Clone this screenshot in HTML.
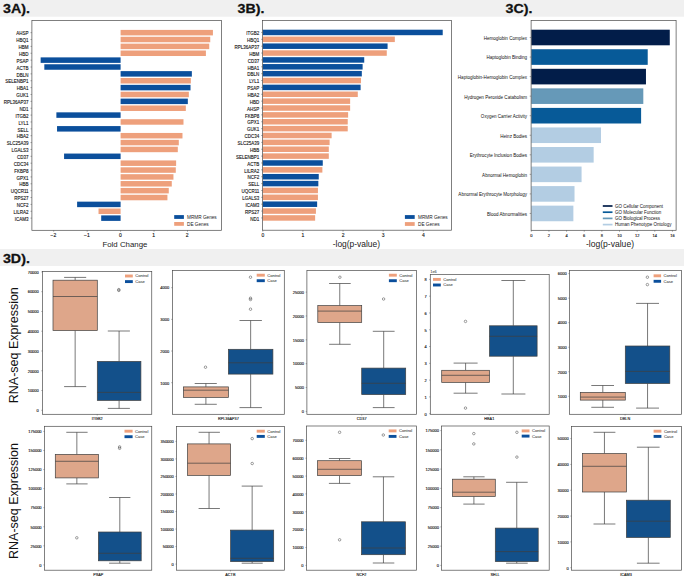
<!DOCTYPE html>
<html><head><meta charset="utf-8"><title>Figure 3</title>
<style>html,body{margin:0;padding:0;background:#fff;width:685px;height:579px;overflow:hidden}svg{display:block}</style>
</head><body>
<svg width="685" height="579" viewBox="0 0 685 579" font-family='"Liberation Sans", sans-serif'><rect x="0.00" y="0.00" width="684.00" height="16.70" fill="#f0f0f0" />
<rect x="0.00" y="249.00" width="684.00" height="17.00" fill="#f0f0f0" />
<text transform="translate(3.00,12.50) scale(1.19,1)" font-size="12.0" text-anchor="start" fill="#111" font-weight="bold" stroke="#111" stroke-width="0.25">3A).</text>
<text transform="translate(237.60,12.50) scale(1.19,1)" font-size="12.0" text-anchor="start" fill="#111" font-weight="bold" stroke="#111" stroke-width="0.25">3B).</text>
<text transform="translate(505.60,12.50) scale(1.19,1)" font-size="12.0" text-anchor="start" fill="#111" font-weight="bold" stroke="#111" stroke-width="0.25">3C).</text>
<text transform="translate(2.90,263.40) scale(1.19,1)" font-size="12.0" text-anchor="start" fill="#111" font-weight="bold" stroke="#111" stroke-width="0.25">3D).</text>
<rect x="120.60" y="29.90" width="92.32" height="5.50" fill="#eea07c" />
<line x1="30.50" y1="32.65" x2="31.90" y2="32.65" stroke="#4a4a4a" stroke-width="0.5" />
<text transform="translate(28.60,35.35) scale(0.9,1)" font-size="5.0" text-anchor="end" fill="#111" font-weight="normal" stroke="#111" stroke-width="0.12">AHSP</text>
<rect x="120.60" y="36.77" width="89.65" height="5.50" fill="#eea07c" />
<line x1="30.50" y1="39.52" x2="31.90" y2="39.52" stroke="#4a4a4a" stroke-width="0.5" />
<text transform="translate(28.60,42.22) scale(0.9,1)" font-size="5.0" text-anchor="end" fill="#111" font-weight="normal" stroke="#111" stroke-width="0.12">HBQ1</text>
<rect x="120.60" y="43.64" width="88.64" height="5.50" fill="#eea07c" />
<line x1="30.50" y1="46.39" x2="31.90" y2="46.39" stroke="#4a4a4a" stroke-width="0.5" />
<text transform="translate(28.60,49.09) scale(0.9,1)" font-size="5.0" text-anchor="end" fill="#111" font-weight="normal" stroke="#111" stroke-width="0.12">HBM</text>
<rect x="120.60" y="50.51" width="85.30" height="5.50" fill="#eea07c" />
<line x1="30.50" y1="53.26" x2="31.90" y2="53.26" stroke="#4a4a4a" stroke-width="0.5" />
<text transform="translate(28.60,55.96) scale(0.9,1)" font-size="5.0" text-anchor="end" fill="#111" font-weight="normal" stroke="#111" stroke-width="0.12">HBD</text>
<rect x="40.65" y="57.38" width="79.95" height="5.50" fill="#0b4f9c" />
<line x1="30.50" y1="60.13" x2="31.90" y2="60.13" stroke="#4a4a4a" stroke-width="0.5" />
<text transform="translate(28.60,62.83) scale(0.9,1)" font-size="5.0" text-anchor="end" fill="#111" font-weight="normal" stroke="#111" stroke-width="0.12">PSAP</text>
<rect x="44.33" y="64.25" width="76.27" height="5.50" fill="#0b4f9c" />
<line x1="30.50" y1="67.00" x2="31.90" y2="67.00" stroke="#4a4a4a" stroke-width="0.5" />
<text transform="translate(28.60,69.70) scale(0.9,1)" font-size="5.0" text-anchor="end" fill="#111" font-weight="normal" stroke="#111" stroke-width="0.12">ACTB</text>
<rect x="120.60" y="71.12" width="71.25" height="5.50" fill="#0b4f9c" />
<line x1="30.50" y1="73.87" x2="31.90" y2="73.87" stroke="#4a4a4a" stroke-width="0.5" />
<text transform="translate(28.60,76.57) scale(0.9,1)" font-size="5.0" text-anchor="end" fill="#111" font-weight="normal" stroke="#111" stroke-width="0.12">DBLN</text>
<rect x="120.60" y="77.99" width="70.25" height="5.50" fill="#eea07c" />
<line x1="30.50" y1="80.74" x2="31.90" y2="80.74" stroke="#4a4a4a" stroke-width="0.5" />
<text transform="translate(28.60,83.44) scale(0.9,1)" font-size="5.0" text-anchor="end" fill="#111" font-weight="normal" stroke="#111" stroke-width="0.12">SELENBP1</text>
<rect x="120.60" y="84.86" width="69.91" height="5.50" fill="#0b4f9c" />
<line x1="30.50" y1="87.61" x2="31.90" y2="87.61" stroke="#4a4a4a" stroke-width="0.5" />
<text transform="translate(28.60,90.31) scale(0.9,1)" font-size="5.0" text-anchor="end" fill="#111" font-weight="normal" stroke="#111" stroke-width="0.12">HBA1</text>
<rect x="120.60" y="91.73" width="68.24" height="5.50" fill="#eea07c" />
<line x1="30.50" y1="94.48" x2="31.90" y2="94.48" stroke="#4a4a4a" stroke-width="0.5" />
<text transform="translate(28.60,97.18) scale(0.9,1)" font-size="5.0" text-anchor="end" fill="#111" font-weight="normal" stroke="#111" stroke-width="0.12">GUK1</text>
<rect x="120.60" y="98.60" width="67.23" height="5.50" fill="#0b4f9c" />
<line x1="30.50" y1="101.35" x2="31.90" y2="101.35" stroke="#4a4a4a" stroke-width="0.5" />
<text transform="translate(28.60,104.05) scale(0.9,1)" font-size="5.0" text-anchor="end" fill="#111" font-weight="normal" stroke="#111" stroke-width="0.12">RPL36AP37</text>
<rect x="120.60" y="105.47" width="65.23" height="5.50" fill="#eea07c" />
<line x1="30.50" y1="108.22" x2="31.90" y2="108.22" stroke="#4a4a4a" stroke-width="0.5" />
<text transform="translate(28.60,110.92) scale(0.9,1)" font-size="5.0" text-anchor="end" fill="#111" font-weight="normal" stroke="#111" stroke-width="0.12">ND1</text>
<rect x="56.38" y="112.34" width="64.22" height="5.50" fill="#0b4f9c" />
<line x1="30.50" y1="115.09" x2="31.90" y2="115.09" stroke="#4a4a4a" stroke-width="0.5" />
<text transform="translate(28.60,117.79) scale(0.9,1)" font-size="5.0" text-anchor="end" fill="#111" font-weight="normal" stroke="#111" stroke-width="0.12">ITGB2</text>
<rect x="120.60" y="119.21" width="62.89" height="5.50" fill="#eea07c" />
<line x1="30.50" y1="121.96" x2="31.90" y2="121.96" stroke="#4a4a4a" stroke-width="0.5" />
<text transform="translate(28.60,124.66) scale(0.9,1)" font-size="5.0" text-anchor="end" fill="#111" font-weight="normal" stroke="#111" stroke-width="0.12">LYL1</text>
<rect x="57.04" y="126.08" width="63.55" height="5.50" fill="#0b4f9c" />
<line x1="30.50" y1="128.83" x2="31.90" y2="128.83" stroke="#4a4a4a" stroke-width="0.5" />
<text transform="translate(28.60,131.53) scale(0.9,1)" font-size="5.0" text-anchor="end" fill="#111" font-weight="normal" stroke="#111" stroke-width="0.12">SELL</text>
<rect x="120.60" y="132.95" width="61.88" height="5.50" fill="#eea07c" />
<line x1="30.50" y1="135.70" x2="31.90" y2="135.70" stroke="#4a4a4a" stroke-width="0.5" />
<text transform="translate(28.60,138.40) scale(0.9,1)" font-size="5.0" text-anchor="end" fill="#111" font-weight="normal" stroke="#111" stroke-width="0.12">HBA2</text>
<rect x="120.60" y="139.82" width="58.20" height="5.50" fill="#eea07c" />
<line x1="30.50" y1="142.57" x2="31.90" y2="142.57" stroke="#4a4a4a" stroke-width="0.5" />
<text transform="translate(28.60,145.27) scale(0.9,1)" font-size="5.0" text-anchor="end" fill="#111" font-weight="normal" stroke="#111" stroke-width="0.12">SLC25A39</text>
<rect x="120.60" y="146.69" width="57.20" height="5.50" fill="#eea07c" />
<line x1="30.50" y1="149.44" x2="31.90" y2="149.44" stroke="#4a4a4a" stroke-width="0.5" />
<text transform="translate(28.60,152.14) scale(0.9,1)" font-size="5.0" text-anchor="end" fill="#111" font-weight="normal" stroke="#111" stroke-width="0.12">LGALS3</text>
<rect x="64.07" y="153.56" width="56.53" height="5.50" fill="#0b4f9c" />
<line x1="30.50" y1="156.31" x2="31.90" y2="156.31" stroke="#4a4a4a" stroke-width="0.5" />
<text transform="translate(28.60,159.01) scale(0.9,1)" font-size="5.0" text-anchor="end" fill="#111" font-weight="normal" stroke="#111" stroke-width="0.12">CD37</text>
<rect x="120.60" y="160.43" width="55.53" height="5.50" fill="#eea07c" />
<line x1="30.50" y1="163.18" x2="31.90" y2="163.18" stroke="#4a4a4a" stroke-width="0.5" />
<text transform="translate(28.60,165.88) scale(0.9,1)" font-size="5.0" text-anchor="end" fill="#111" font-weight="normal" stroke="#111" stroke-width="0.12">CDC34</text>
<rect x="120.60" y="167.30" width="55.19" height="5.50" fill="#eea07c" />
<line x1="30.50" y1="170.05" x2="31.90" y2="170.05" stroke="#4a4a4a" stroke-width="0.5" />
<text transform="translate(28.60,172.75) scale(0.9,1)" font-size="5.0" text-anchor="end" fill="#111" font-weight="normal" stroke="#111" stroke-width="0.12">FKBP8</text>
<rect x="120.60" y="174.17" width="52.85" height="5.50" fill="#eea07c" />
<line x1="30.50" y1="176.92" x2="31.90" y2="176.92" stroke="#4a4a4a" stroke-width="0.5" />
<text transform="translate(28.60,179.62) scale(0.9,1)" font-size="5.0" text-anchor="end" fill="#111" font-weight="normal" stroke="#111" stroke-width="0.12">GPX1</text>
<rect x="120.60" y="181.04" width="51.18" height="5.50" fill="#eea07c" />
<line x1="30.50" y1="183.79" x2="31.90" y2="183.79" stroke="#4a4a4a" stroke-width="0.5" />
<text transform="translate(28.60,186.49) scale(0.9,1)" font-size="5.0" text-anchor="end" fill="#111" font-weight="normal" stroke="#111" stroke-width="0.12">HBB</text>
<rect x="120.60" y="187.91" width="48.17" height="5.50" fill="#eea07c" />
<line x1="30.50" y1="190.66" x2="31.90" y2="190.66" stroke="#4a4a4a" stroke-width="0.5" />
<text transform="translate(28.60,193.36) scale(0.9,1)" font-size="5.0" text-anchor="end" fill="#111" font-weight="normal" stroke="#111" stroke-width="0.12">UQCR11</text>
<rect x="120.60" y="194.78" width="46.83" height="5.50" fill="#eea07c" />
<line x1="30.50" y1="197.53" x2="31.90" y2="197.53" stroke="#4a4a4a" stroke-width="0.5" />
<text transform="translate(28.60,200.23) scale(0.9,1)" font-size="5.0" text-anchor="end" fill="#111" font-weight="normal" stroke="#111" stroke-width="0.12">RPS27</text>
<rect x="77.11" y="201.65" width="43.49" height="5.50" fill="#0b4f9c" />
<line x1="30.50" y1="204.40" x2="31.90" y2="204.40" stroke="#4a4a4a" stroke-width="0.5" />
<text transform="translate(28.60,207.10) scale(0.9,1)" font-size="5.0" text-anchor="end" fill="#111" font-weight="normal" stroke="#111" stroke-width="0.12">NCF2</text>
<rect x="98.52" y="208.52" width="22.08" height="5.50" fill="#eea07c" />
<line x1="30.50" y1="211.27" x2="31.90" y2="211.27" stroke="#4a4a4a" stroke-width="0.5" />
<text transform="translate(28.60,213.97) scale(0.9,1)" font-size="5.0" text-anchor="end" fill="#111" font-weight="normal" stroke="#111" stroke-width="0.12">LILRA2</text>
<rect x="101.20" y="215.39" width="19.40" height="5.50" fill="#0b4f9c" />
<line x1="30.50" y1="218.14" x2="31.90" y2="218.14" stroke="#4a4a4a" stroke-width="0.5" />
<text transform="translate(28.60,220.84) scale(0.9,1)" font-size="5.0" text-anchor="end" fill="#111" font-weight="normal" stroke="#111" stroke-width="0.12">ICAM3</text>
<rect x="31.90" y="20.40" width="189.50" height="209.90" fill="none" stroke="#4a4a4a" stroke-width="0.7"/>
<line x1="53.70" y1="230.30" x2="53.70" y2="231.70" stroke="#4a4a4a" stroke-width="0.5" />
<text x="53.40" y="237.10" font-size="5.0" text-anchor="middle" fill="#111" font-weight="normal" stroke="#111" stroke-width="0.12">−2</text>
<line x1="87.15" y1="230.30" x2="87.15" y2="231.70" stroke="#4a4a4a" stroke-width="0.5" />
<text x="86.85" y="237.10" font-size="5.0" text-anchor="middle" fill="#111" font-weight="normal" stroke="#111" stroke-width="0.12">−1</text>
<line x1="120.60" y1="230.30" x2="120.60" y2="231.70" stroke="#4a4a4a" stroke-width="0.5" />
<text x="120.30" y="237.10" font-size="5.0" text-anchor="middle" fill="#111" font-weight="normal" stroke="#111" stroke-width="0.12">0</text>
<line x1="154.05" y1="230.30" x2="154.05" y2="231.70" stroke="#4a4a4a" stroke-width="0.5" />
<text x="153.75" y="237.10" font-size="5.0" text-anchor="middle" fill="#111" font-weight="normal" stroke="#111" stroke-width="0.12">1</text>
<line x1="187.50" y1="230.30" x2="187.50" y2="231.70" stroke="#4a4a4a" stroke-width="0.5" />
<text x="187.20" y="237.10" font-size="5.0" text-anchor="middle" fill="#111" font-weight="normal" stroke="#111" stroke-width="0.12">2</text>
<text x="124.90" y="247.20" font-size="7.85" text-anchor="middle" fill="#222" font-weight="normal" >Fold Change</text>
<rect x="174.20" y="215.10" width="9.70" height="3.80" fill="#0b4f9c" />
<rect x="174.20" y="222.00" width="9.70" height="3.80" fill="#eea07c" />
<text x="187.00" y="218.70" font-size="4.7" text-anchor="start" fill="#222" font-weight="normal" >MRMR Genes</text>
<text x="187.00" y="225.60" font-size="4.7" text-anchor="start" fill="#222" font-weight="normal" >DE Genes</text>
<rect x="262.80" y="29.70" width="179.92" height="5.50" fill="#0b4f9c" />
<line x1="261.20" y1="32.45" x2="262.60" y2="32.45" stroke="#4a4a4a" stroke-width="0.5" />
<text transform="translate(259.30,35.15) scale(0.9,1)" font-size="5.0" text-anchor="end" fill="#111" font-weight="normal" stroke="#111" stroke-width="0.12">ITGB2</text>
<rect x="262.80" y="36.57" width="132.02" height="5.50" fill="#eea07c" />
<line x1="261.20" y1="39.32" x2="262.60" y2="39.32" stroke="#4a4a4a" stroke-width="0.5" />
<text transform="translate(259.30,42.02) scale(0.9,1)" font-size="5.0" text-anchor="end" fill="#111" font-weight="normal" stroke="#111" stroke-width="0.12">HBQ1</text>
<rect x="262.80" y="43.44" width="124.78" height="5.50" fill="#0b4f9c" />
<line x1="261.20" y1="46.19" x2="262.60" y2="46.19" stroke="#4a4a4a" stroke-width="0.5" />
<text transform="translate(259.30,48.89) scale(0.9,1)" font-size="5.0" text-anchor="end" fill="#111" font-weight="normal" stroke="#111" stroke-width="0.12">RPL36AP37</text>
<rect x="262.80" y="50.31" width="123.97" height="5.50" fill="#eea07c" />
<line x1="261.20" y1="53.06" x2="262.60" y2="53.06" stroke="#4a4a4a" stroke-width="0.5" />
<text transform="translate(259.30,55.76) scale(0.9,1)" font-size="5.0" text-anchor="end" fill="#111" font-weight="normal" stroke="#111" stroke-width="0.12">HBM</text>
<rect x="262.80" y="57.18" width="101.43" height="5.50" fill="#0b4f9c" />
<line x1="261.20" y1="59.93" x2="262.60" y2="59.93" stroke="#4a4a4a" stroke-width="0.5" />
<text transform="translate(259.30,62.63) scale(0.9,1)" font-size="5.0" text-anchor="end" fill="#111" font-weight="normal" stroke="#111" stroke-width="0.12">CD37</text>
<rect x="262.80" y="64.05" width="99.82" height="5.50" fill="#0b4f9c" />
<line x1="261.20" y1="66.80" x2="262.60" y2="66.80" stroke="#4a4a4a" stroke-width="0.5" />
<text transform="translate(259.30,69.50) scale(0.9,1)" font-size="5.0" text-anchor="end" fill="#111" font-weight="normal" stroke="#111" stroke-width="0.12">HBA1</text>
<rect x="262.80" y="70.92" width="99.02" height="5.50" fill="#0b4f9c" />
<line x1="261.20" y1="73.67" x2="262.60" y2="73.67" stroke="#4a4a4a" stroke-width="0.5" />
<text transform="translate(259.30,76.37) scale(0.9,1)" font-size="5.0" text-anchor="end" fill="#111" font-weight="normal" stroke="#111" stroke-width="0.12">DBLN</text>
<rect x="262.80" y="77.79" width="98.21" height="5.50" fill="#eea07c" />
<line x1="261.20" y1="80.54" x2="262.60" y2="80.54" stroke="#4a4a4a" stroke-width="0.5" />
<text transform="translate(259.30,83.24) scale(0.9,1)" font-size="5.0" text-anchor="end" fill="#111" font-weight="normal" stroke="#111" stroke-width="0.12">LYL1</text>
<rect x="262.80" y="84.66" width="97.81" height="5.50" fill="#0b4f9c" />
<line x1="261.20" y1="87.41" x2="262.60" y2="87.41" stroke="#4a4a4a" stroke-width="0.5" />
<text transform="translate(259.30,90.11) scale(0.9,1)" font-size="5.0" text-anchor="end" fill="#111" font-weight="normal" stroke="#111" stroke-width="0.12">PSAP</text>
<rect x="262.80" y="91.53" width="94.99" height="5.50" fill="#eea07c" />
<line x1="261.20" y1="94.28" x2="262.60" y2="94.28" stroke="#4a4a4a" stroke-width="0.5" />
<text transform="translate(259.30,96.98) scale(0.9,1)" font-size="5.0" text-anchor="end" fill="#111" font-weight="normal" stroke="#111" stroke-width="0.12">HBA2</text>
<rect x="262.80" y="98.40" width="87.34" height="5.50" fill="#eea07c" />
<line x1="261.20" y1="101.15" x2="262.60" y2="101.15" stroke="#4a4a4a" stroke-width="0.5" />
<text transform="translate(259.30,103.85) scale(0.9,1)" font-size="5.0" text-anchor="end" fill="#111" font-weight="normal" stroke="#111" stroke-width="0.12">HBD</text>
<rect x="262.80" y="105.27" width="87.34" height="5.50" fill="#eea07c" />
<line x1="261.20" y1="108.02" x2="262.60" y2="108.02" stroke="#4a4a4a" stroke-width="0.5" />
<text transform="translate(259.30,110.72) scale(0.9,1)" font-size="5.0" text-anchor="end" fill="#111" font-weight="normal" stroke="#111" stroke-width="0.12">AHSP</text>
<rect x="262.80" y="112.14" width="85.33" height="5.50" fill="#eea07c" />
<line x1="261.20" y1="114.89" x2="262.60" y2="114.89" stroke="#4a4a4a" stroke-width="0.5" />
<text transform="translate(259.30,117.59) scale(0.9,1)" font-size="5.0" text-anchor="end" fill="#111" font-weight="normal" stroke="#111" stroke-width="0.12">FKBP8</text>
<rect x="262.80" y="119.01" width="84.93" height="5.50" fill="#eea07c" />
<line x1="261.20" y1="121.76" x2="262.60" y2="121.76" stroke="#4a4a4a" stroke-width="0.5" />
<text transform="translate(259.30,124.46) scale(0.9,1)" font-size="5.0" text-anchor="end" fill="#111" font-weight="normal" stroke="#111" stroke-width="0.12">GPX1</text>
<rect x="262.80" y="125.88" width="84.93" height="5.50" fill="#eea07c" />
<line x1="261.20" y1="128.63" x2="262.60" y2="128.63" stroke="#4a4a4a" stroke-width="0.5" />
<text transform="translate(259.30,131.33) scale(0.9,1)" font-size="5.0" text-anchor="end" fill="#111" font-weight="normal" stroke="#111" stroke-width="0.12">GUK1</text>
<rect x="262.80" y="132.75" width="68.83" height="5.50" fill="#eea07c" />
<line x1="261.20" y1="135.50" x2="262.60" y2="135.50" stroke="#4a4a4a" stroke-width="0.5" />
<text transform="translate(259.30,138.20) scale(0.9,1)" font-size="5.0" text-anchor="end" fill="#111" font-weight="normal" stroke="#111" stroke-width="0.12">CDC34</text>
<rect x="262.80" y="139.62" width="66.81" height="5.50" fill="#eea07c" />
<line x1="261.20" y1="142.37" x2="262.60" y2="142.37" stroke="#4a4a4a" stroke-width="0.5" />
<text transform="translate(259.30,145.07) scale(0.9,1)" font-size="5.0" text-anchor="end" fill="#111" font-weight="normal" stroke="#111" stroke-width="0.12">SLC25A39</text>
<rect x="262.80" y="146.49" width="66.01" height="5.50" fill="#eea07c" />
<line x1="261.20" y1="149.24" x2="262.60" y2="149.24" stroke="#4a4a4a" stroke-width="0.5" />
<text transform="translate(259.30,151.94) scale(0.9,1)" font-size="5.0" text-anchor="end" fill="#111" font-weight="normal" stroke="#111" stroke-width="0.12">HBB</text>
<rect x="262.80" y="153.36" width="66.01" height="5.50" fill="#eea07c" />
<line x1="261.20" y1="156.11" x2="262.60" y2="156.11" stroke="#4a4a4a" stroke-width="0.5" />
<text transform="translate(259.30,158.81) scale(0.9,1)" font-size="5.0" text-anchor="end" fill="#111" font-weight="normal" stroke="#111" stroke-width="0.12">SELENBP1</text>
<rect x="262.80" y="160.23" width="59.97" height="5.50" fill="#0b4f9c" />
<line x1="261.20" y1="162.98" x2="262.60" y2="162.98" stroke="#4a4a4a" stroke-width="0.5" />
<text transform="translate(259.30,165.68) scale(0.9,1)" font-size="5.0" text-anchor="end" fill="#111" font-weight="normal" stroke="#111" stroke-width="0.12">ACTB</text>
<rect x="262.80" y="167.10" width="59.57" height="5.50" fill="#eea07c" />
<line x1="261.20" y1="169.85" x2="262.60" y2="169.85" stroke="#4a4a4a" stroke-width="0.5" />
<text transform="translate(259.30,172.55) scale(0.9,1)" font-size="5.0" text-anchor="end" fill="#111" font-weight="normal" stroke="#111" stroke-width="0.12">LILRA2</text>
<rect x="262.80" y="173.97" width="55.95" height="5.50" fill="#0b4f9c" />
<line x1="261.20" y1="176.72" x2="262.60" y2="176.72" stroke="#4a4a4a" stroke-width="0.5" />
<text transform="translate(259.30,179.42) scale(0.9,1)" font-size="5.0" text-anchor="end" fill="#111" font-weight="normal" stroke="#111" stroke-width="0.12">NCF2</text>
<rect x="262.80" y="180.84" width="55.54" height="5.50" fill="#0b4f9c" />
<line x1="261.20" y1="183.59" x2="262.60" y2="183.59" stroke="#4a4a4a" stroke-width="0.5" />
<text transform="translate(259.30,186.29) scale(0.9,1)" font-size="5.0" text-anchor="end" fill="#111" font-weight="normal" stroke="#111" stroke-width="0.12">SELL</text>
<rect x="262.80" y="187.71" width="55.14" height="5.50" fill="#eea07c" />
<line x1="261.20" y1="190.46" x2="262.60" y2="190.46" stroke="#4a4a4a" stroke-width="0.5" />
<text transform="translate(259.30,193.16) scale(0.9,1)" font-size="5.0" text-anchor="end" fill="#111" font-weight="normal" stroke="#111" stroke-width="0.12">UQCR11</text>
<rect x="262.80" y="194.58" width="55.14" height="5.50" fill="#eea07c" />
<line x1="261.20" y1="197.33" x2="262.60" y2="197.33" stroke="#4a4a4a" stroke-width="0.5" />
<text transform="translate(259.30,200.03) scale(0.9,1)" font-size="5.0" text-anchor="end" fill="#111" font-weight="normal" stroke="#111" stroke-width="0.12">LGALS3</text>
<rect x="262.80" y="201.45" width="54.34" height="5.50" fill="#0b4f9c" />
<line x1="261.20" y1="204.20" x2="262.60" y2="204.20" stroke="#4a4a4a" stroke-width="0.5" />
<text transform="translate(259.30,206.90) scale(0.9,1)" font-size="5.0" text-anchor="end" fill="#111" font-weight="normal" stroke="#111" stroke-width="0.12">ICAM3</text>
<rect x="262.80" y="208.32" width="53.13" height="5.50" fill="#eea07c" />
<line x1="261.20" y1="211.07" x2="262.60" y2="211.07" stroke="#4a4a4a" stroke-width="0.5" />
<text transform="translate(259.30,213.77) scale(0.9,1)" font-size="5.0" text-anchor="end" fill="#111" font-weight="normal" stroke="#111" stroke-width="0.12">RPS27</text>
<rect x="262.80" y="215.19" width="52.33" height="5.50" fill="#eea07c" />
<line x1="261.20" y1="217.94" x2="262.60" y2="217.94" stroke="#4a4a4a" stroke-width="0.5" />
<text transform="translate(259.30,220.64) scale(0.9,1)" font-size="5.0" text-anchor="end" fill="#111" font-weight="normal" stroke="#111" stroke-width="0.12">ND1</text>
<rect x="262.60" y="20.40" width="188.80" height="209.80" fill="none" stroke="#4a4a4a" stroke-width="0.7"/>
<line x1="262.80" y1="230.20" x2="262.80" y2="231.60" stroke="#4a4a4a" stroke-width="0.5" />
<text x="262.80" y="237.10" font-size="5.0" text-anchor="middle" fill="#111" font-weight="normal" stroke="#111" stroke-width="0.12">0</text>
<line x1="302.92" y1="230.20" x2="302.92" y2="231.60" stroke="#4a4a4a" stroke-width="0.5" />
<text x="302.92" y="237.10" font-size="5.0" text-anchor="middle" fill="#111" font-weight="normal" stroke="#111" stroke-width="0.12">1</text>
<line x1="343.04" y1="230.20" x2="343.04" y2="231.60" stroke="#4a4a4a" stroke-width="0.5" />
<text x="343.04" y="237.10" font-size="5.0" text-anchor="middle" fill="#111" font-weight="normal" stroke="#111" stroke-width="0.12">2</text>
<line x1="383.16" y1="230.20" x2="383.16" y2="231.60" stroke="#4a4a4a" stroke-width="0.5" />
<text x="383.16" y="237.10" font-size="5.0" text-anchor="middle" fill="#111" font-weight="normal" stroke="#111" stroke-width="0.12">3</text>
<line x1="423.28" y1="230.20" x2="423.28" y2="231.60" stroke="#4a4a4a" stroke-width="0.5" />
<text x="423.28" y="237.10" font-size="5.0" text-anchor="middle" fill="#111" font-weight="normal" stroke="#111" stroke-width="0.12">4</text>
<text x="356.40" y="247.40" font-size="8.45" text-anchor="middle" fill="#222" font-weight="normal" >-log(p-value)</text>
<rect x="404.90" y="215.10" width="9.80" height="3.80" fill="#0b4f9c" />
<rect x="404.90" y="222.10" width="9.80" height="3.80" fill="#eea07c" />
<text x="418.00" y="218.70" font-size="4.7" text-anchor="start" fill="#222" font-weight="normal" >MRMR Genes</text>
<text x="418.00" y="225.70" font-size="4.7" text-anchor="start" fill="#222" font-weight="normal" >DE Genes</text>
<rect x="531.30" y="29.70" width="138.47" height="15.60" fill="#021d49" />
<line x1="529.70" y1="37.50" x2="531.10" y2="37.50" stroke="#4a4a4a" stroke-width="0.5" />
<text x="527.10" y="39.90" font-size="4.55" text-anchor="end" fill="#111" font-weight="normal" >Hemoglobin Complex</text>
<rect x="531.30" y="49.25" width="116.42" height="15.60" fill="#075a98" />
<line x1="529.70" y1="57.05" x2="531.10" y2="57.05" stroke="#4a4a4a" stroke-width="0.5" />
<text x="527.10" y="59.45" font-size="4.55" text-anchor="end" fill="#111" font-weight="normal" >Haptoglobin Binding</text>
<rect x="531.30" y="68.80" width="114.66" height="15.60" fill="#021d49" />
<line x1="529.70" y1="76.60" x2="531.10" y2="76.60" stroke="#4a4a4a" stroke-width="0.5" />
<text x="527.10" y="79.00" font-size="4.55" text-anchor="end" fill="#111" font-weight="normal" >Haptoglobin-Hemoglobin Complex</text>
<rect x="531.30" y="88.35" width="112.01" height="15.60" fill="#6699b8" />
<line x1="529.70" y1="96.15" x2="531.10" y2="96.15" stroke="#4a4a4a" stroke-width="0.5" />
<text x="527.10" y="98.55" font-size="4.55" text-anchor="end" fill="#111" font-weight="normal" >Hydrogen Peroxide Catabolism</text>
<rect x="531.30" y="107.90" width="109.81" height="15.60" fill="#075a98" />
<line x1="529.70" y1="115.70" x2="531.10" y2="115.70" stroke="#4a4a4a" stroke-width="0.5" />
<text x="527.10" y="118.10" font-size="4.55" text-anchor="end" fill="#111" font-weight="normal" >Oxygen Carrier Activity</text>
<rect x="531.30" y="127.45" width="69.68" height="15.60" fill="#b3cde3" />
<line x1="529.70" y1="135.25" x2="531.10" y2="135.25" stroke="#4a4a4a" stroke-width="0.5" />
<text x="527.10" y="137.65" font-size="4.55" text-anchor="end" fill="#111" font-weight="normal" >Heinz Bodies</text>
<rect x="531.30" y="147.00" width="62.36" height="15.60" fill="#b3cde3" />
<line x1="529.70" y1="154.80" x2="531.10" y2="154.80" stroke="#4a4a4a" stroke-width="0.5" />
<text x="527.10" y="157.20" font-size="4.55" text-anchor="end" fill="#111" font-weight="normal" >Erythrocyte Inclusion Bodies</text>
<rect x="531.30" y="166.55" width="50.27" height="15.60" fill="#b3cde3" />
<line x1="529.70" y1="174.35" x2="531.10" y2="174.35" stroke="#4a4a4a" stroke-width="0.5" />
<text x="527.10" y="176.75" font-size="4.55" text-anchor="end" fill="#111" font-weight="normal" >Abnormal Hemoglobin</text>
<rect x="531.30" y="186.10" width="43.22" height="15.60" fill="#b3cde3" />
<line x1="529.70" y1="193.90" x2="531.10" y2="193.90" stroke="#4a4a4a" stroke-width="0.5" />
<text x="527.10" y="196.30" font-size="4.55" text-anchor="end" fill="#111" font-weight="normal" >Abnormal Erythrocyte Morphology</text>
<rect x="531.30" y="205.65" width="42.07" height="15.60" fill="#b3cde3" />
<line x1="529.70" y1="213.45" x2="531.10" y2="213.45" stroke="#4a4a4a" stroke-width="0.5" />
<text x="527.10" y="215.85" font-size="4.55" text-anchor="end" fill="#111" font-weight="normal" >Blood Abnormalities</text>
<rect x="531.10" y="20.40" width="145.00" height="209.90" fill="none" stroke="#4a4a4a" stroke-width="0.7"/>
<line x1="531.30" y1="230.30" x2="531.30" y2="231.70" stroke="#4a4a4a" stroke-width="0.5" />
<text x="531.30" y="237.20" font-size="4.0" text-anchor="middle" fill="#111" font-weight="normal" stroke="#111" stroke-width="0.12">0</text>
<line x1="548.94" y1="230.30" x2="548.94" y2="231.70" stroke="#4a4a4a" stroke-width="0.5" />
<text x="548.94" y="237.20" font-size="4.0" text-anchor="middle" fill="#111" font-weight="normal" stroke="#111" stroke-width="0.12">2</text>
<line x1="566.58" y1="230.30" x2="566.58" y2="231.70" stroke="#4a4a4a" stroke-width="0.5" />
<text x="566.58" y="237.20" font-size="4.0" text-anchor="middle" fill="#111" font-weight="normal" stroke="#111" stroke-width="0.12">4</text>
<line x1="584.22" y1="230.30" x2="584.22" y2="231.70" stroke="#4a4a4a" stroke-width="0.5" />
<text x="584.22" y="237.20" font-size="4.0" text-anchor="middle" fill="#111" font-weight="normal" stroke="#111" stroke-width="0.12">6</text>
<line x1="601.86" y1="230.30" x2="601.86" y2="231.70" stroke="#4a4a4a" stroke-width="0.5" />
<text x="601.86" y="237.20" font-size="4.0" text-anchor="middle" fill="#111" font-weight="normal" stroke="#111" stroke-width="0.12">8</text>
<line x1="619.50" y1="230.30" x2="619.50" y2="231.70" stroke="#4a4a4a" stroke-width="0.5" />
<text x="619.50" y="237.20" font-size="4.0" text-anchor="middle" fill="#111" font-weight="normal" stroke="#111" stroke-width="0.12">10</text>
<line x1="637.14" y1="230.30" x2="637.14" y2="231.70" stroke="#4a4a4a" stroke-width="0.5" />
<text x="637.14" y="237.20" font-size="4.0" text-anchor="middle" fill="#111" font-weight="normal" stroke="#111" stroke-width="0.12">12</text>
<line x1="654.78" y1="230.30" x2="654.78" y2="231.70" stroke="#4a4a4a" stroke-width="0.5" />
<text x="654.78" y="237.20" font-size="4.0" text-anchor="middle" fill="#111" font-weight="normal" stroke="#111" stroke-width="0.12">14</text>
<line x1="672.42" y1="230.30" x2="672.42" y2="231.70" stroke="#4a4a4a" stroke-width="0.5" />
<text x="672.42" y="237.20" font-size="4.0" text-anchor="middle" fill="#111" font-weight="normal" stroke="#111" stroke-width="0.12">16</text>
<text x="610.00" y="247.40" font-size="8.55" text-anchor="middle" fill="#222" font-weight="normal" >-log(p-value)</text>
<line x1="602.80" y1="206.00" x2="612.50" y2="206.00" stroke="#021d49" stroke-width="1.7" />
<text x="615.00" y="207.60" font-size="4.5" text-anchor="start" fill="#111" font-weight="normal" >GO Cellular Component</text>
<line x1="602.80" y1="212.20" x2="612.50" y2="212.20" stroke="#075a98" stroke-width="1.7" />
<text x="615.00" y="213.80" font-size="4.5" text-anchor="start" fill="#111" font-weight="normal" >GO Molecular Function</text>
<line x1="602.80" y1="218.40" x2="612.50" y2="218.40" stroke="#6699b8" stroke-width="1.7" />
<text x="615.00" y="220.00" font-size="4.5" text-anchor="start" fill="#111" font-weight="normal" >GO Biological Process</text>
<line x1="602.80" y1="224.60" x2="612.50" y2="224.60" stroke="#b3cde3" stroke-width="1.7" />
<text x="615.00" y="226.20" font-size="4.5" text-anchor="start" fill="#111" font-weight="normal" >Human Phenotype Ontology</text>
<line x1="41.30" y1="410.30" x2="42.50" y2="410.30" stroke="#4a4a4a" stroke-width="0.45" />
<text x="38.80" y="412.10" font-size="4.0" text-anchor="end" fill="#111" font-weight="normal" stroke="#111" stroke-width="0.12">0</text>
<line x1="41.30" y1="390.53" x2="42.50" y2="390.53" stroke="#4a4a4a" stroke-width="0.45" />
<text x="38.80" y="392.33" font-size="4.0" text-anchor="end" fill="#111" font-weight="normal" stroke="#111" stroke-width="0.12">10000</text>
<line x1="41.30" y1="370.76" x2="42.50" y2="370.76" stroke="#4a4a4a" stroke-width="0.45" />
<text x="38.80" y="372.56" font-size="4.0" text-anchor="end" fill="#111" font-weight="normal" stroke="#111" stroke-width="0.12">20000</text>
<line x1="41.30" y1="350.99" x2="42.50" y2="350.99" stroke="#4a4a4a" stroke-width="0.45" />
<text x="38.80" y="352.79" font-size="4.0" text-anchor="end" fill="#111" font-weight="normal" stroke="#111" stroke-width="0.12">30000</text>
<line x1="41.30" y1="331.22" x2="42.50" y2="331.22" stroke="#4a4a4a" stroke-width="0.45" />
<text x="38.80" y="333.02" font-size="4.0" text-anchor="end" fill="#111" font-weight="normal" stroke="#111" stroke-width="0.12">40000</text>
<line x1="41.30" y1="311.45" x2="42.50" y2="311.45" stroke="#4a4a4a" stroke-width="0.45" />
<text x="38.80" y="313.25" font-size="4.0" text-anchor="end" fill="#111" font-weight="normal" stroke="#111" stroke-width="0.12">50000</text>
<line x1="41.30" y1="291.68" x2="42.50" y2="291.68" stroke="#4a4a4a" stroke-width="0.45" />
<text x="38.80" y="293.48" font-size="4.0" text-anchor="end" fill="#111" font-weight="normal" stroke="#111" stroke-width="0.12">60000</text>
<line x1="41.30" y1="271.91" x2="42.50" y2="271.91" stroke="#4a4a4a" stroke-width="0.45" />
<text x="38.80" y="273.71" font-size="4.0" text-anchor="end" fill="#111" font-weight="normal" stroke="#111" stroke-width="0.12">70000</text>
<line x1="75.15" y1="277.40" x2="75.15" y2="280.20" stroke="#3f3f3f" stroke-width="0.7" />
<line x1="75.15" y1="330.50" x2="75.15" y2="386.60" stroke="#3f3f3f" stroke-width="0.7" />
<line x1="64.10" y1="277.40" x2="86.20" y2="277.40" stroke="#3f3f3f" stroke-width="0.7" />
<line x1="64.10" y1="386.60" x2="86.20" y2="386.60" stroke="#3f3f3f" stroke-width="0.7" />
<rect x="53.00" y="280.20" width="44.30" height="50.30" fill="#dea68a" stroke="#3f3f3f" stroke-width="0.7"/>
<line x1="53.00" y1="296.50" x2="97.30" y2="296.50" stroke="#3f3f3f" stroke-width="0.7" />
<line x1="119.10" y1="331.00" x2="119.10" y2="361.40" stroke="#3f3f3f" stroke-width="0.7" />
<line x1="119.10" y1="400.40" x2="119.10" y2="408.40" stroke="#3f3f3f" stroke-width="0.7" />
<line x1="107.80" y1="331.00" x2="129.90" y2="331.00" stroke="#3f3f3f" stroke-width="0.7" />
<line x1="107.80" y1="408.40" x2="129.90" y2="408.40" stroke="#3f3f3f" stroke-width="0.7" />
<rect x="97.30" y="361.40" width="43.60" height="39.00" fill="#13508a" stroke="#3f3f3f" stroke-width="0.7"/>
<line x1="97.30" y1="392.40" x2="140.90" y2="392.40" stroke="#3f3f3f" stroke-width="0.7" />
<circle cx="118.80" cy="290.40" r="1.25" fill="none" stroke="#3f3f3f" stroke-width="0.5"/>
<circle cx="118.80" cy="289.60" r="1.25" fill="none" stroke="#3f3f3f" stroke-width="0.5"/>
<rect x="42.50" y="271.40" width="109.25" height="142.90" fill="none" stroke="#4a4a4a" stroke-width="0.7"/>
<rect x="125.00" y="274.55" width="7.80" height="2.90" fill="#eea07c" />
<rect x="125.00" y="280.15" width="7.80" height="2.90" fill="#0b4f9c" />
<text x="135.30" y="277.40" font-size="4.1" text-anchor="start" fill="#111" font-weight="normal" >Control</text>
<text x="135.30" y="283.00" font-size="4.1" text-anchor="start" fill="#111" font-weight="normal" >Case</text>
<line x1="97.20" y1="414.30" x2="97.20" y2="415.50" stroke="#4a4a4a" stroke-width="0.45" />
<text x="97.20" y="419.90" font-size="3.8" text-anchor="middle" fill="#111" font-weight="normal" stroke="#111" stroke-width="0.12">ITGB2</text>
<line x1="171.20" y1="382.70" x2="172.40" y2="382.70" stroke="#4a4a4a" stroke-width="0.45" />
<text x="169.20" y="384.50" font-size="4.0" text-anchor="end" fill="#111" font-weight="normal" stroke="#111" stroke-width="0.12">1000</text>
<line x1="171.20" y1="351.03" x2="172.40" y2="351.03" stroke="#4a4a4a" stroke-width="0.45" />
<text x="169.20" y="352.83" font-size="4.0" text-anchor="end" fill="#111" font-weight="normal" stroke="#111" stroke-width="0.12">2000</text>
<line x1="171.20" y1="319.36" x2="172.40" y2="319.36" stroke="#4a4a4a" stroke-width="0.45" />
<text x="169.20" y="321.16" font-size="4.0" text-anchor="end" fill="#111" font-weight="normal" stroke="#111" stroke-width="0.12">3000</text>
<line x1="171.20" y1="287.69" x2="172.40" y2="287.69" stroke="#4a4a4a" stroke-width="0.45" />
<text x="169.20" y="289.49" font-size="4.0" text-anchor="end" fill="#111" font-weight="normal" stroke="#111" stroke-width="0.12">4000</text>
<line x1="205.90" y1="383.50" x2="205.90" y2="386.90" stroke="#3f3f3f" stroke-width="0.7" />
<line x1="205.90" y1="397.40" x2="205.90" y2="404.30" stroke="#3f3f3f" stroke-width="0.7" />
<line x1="194.70" y1="383.50" x2="216.80" y2="383.50" stroke="#3f3f3f" stroke-width="0.7" />
<line x1="194.70" y1="404.30" x2="216.80" y2="404.30" stroke="#3f3f3f" stroke-width="0.7" />
<rect x="183.40" y="386.90" width="45.00" height="10.50" fill="#dea68a" stroke="#3f3f3f" stroke-width="0.7"/>
<line x1="183.40" y1="390.20" x2="228.40" y2="390.20" stroke="#3f3f3f" stroke-width="0.7" />
<circle cx="205.50" cy="367.20" r="1.25" fill="none" stroke="#3f3f3f" stroke-width="0.5"/>
<line x1="250.65" y1="320.50" x2="250.65" y2="349.30" stroke="#3f3f3f" stroke-width="0.7" />
<line x1="250.65" y1="374.10" x2="250.65" y2="407.60" stroke="#3f3f3f" stroke-width="0.7" />
<line x1="239.50" y1="320.50" x2="261.90" y2="320.50" stroke="#3f3f3f" stroke-width="0.7" />
<line x1="239.50" y1="407.60" x2="261.90" y2="407.60" stroke="#3f3f3f" stroke-width="0.7" />
<rect x="228.40" y="349.30" width="44.50" height="24.80" fill="#13508a" stroke="#3f3f3f" stroke-width="0.7"/>
<line x1="228.40" y1="362.80" x2="272.90" y2="362.80" stroke="#3f3f3f" stroke-width="0.7" />
<circle cx="250.50" cy="277.20" r="1.25" fill="none" stroke="#3f3f3f" stroke-width="0.5"/>
<circle cx="250.50" cy="298.20" r="1.25" fill="none" stroke="#3f3f3f" stroke-width="0.5"/>
<circle cx="250.50" cy="299.50" r="1.25" fill="none" stroke="#3f3f3f" stroke-width="0.5"/>
<circle cx="250.50" cy="309.20" r="1.25" fill="none" stroke="#3f3f3f" stroke-width="0.5"/>
<rect x="172.40" y="270.50" width="111.90" height="143.80" fill="none" stroke="#4a4a4a" stroke-width="0.7"/>
<rect x="256.70" y="273.75" width="8.10" height="2.90" fill="#eea07c" />
<rect x="256.70" y="279.25" width="8.10" height="2.90" fill="#0b4f9c" />
<text x="267.30" y="276.60" font-size="4.1" text-anchor="start" fill="#111" font-weight="normal" >Control</text>
<text x="267.30" y="282.10" font-size="4.1" text-anchor="start" fill="#111" font-weight="normal" >Case</text>
<line x1="228.40" y1="414.30" x2="228.40" y2="415.50" stroke="#4a4a4a" stroke-width="0.45" />
<text x="228.40" y="419.90" font-size="3.8" text-anchor="middle" fill="#111" font-weight="normal" stroke="#111" stroke-width="0.12">RPL36AP37</text>
<line x1="305.70" y1="411.40" x2="306.90" y2="411.40" stroke="#4a4a4a" stroke-width="0.45" />
<text x="303.90" y="413.20" font-size="4.0" text-anchor="end" fill="#111" font-weight="normal" stroke="#111" stroke-width="0.12">0</text>
<line x1="305.70" y1="387.54" x2="306.90" y2="387.54" stroke="#4a4a4a" stroke-width="0.45" />
<text x="303.90" y="389.34" font-size="4.0" text-anchor="end" fill="#111" font-weight="normal" stroke="#111" stroke-width="0.12">5000</text>
<line x1="305.70" y1="363.68" x2="306.90" y2="363.68" stroke="#4a4a4a" stroke-width="0.45" />
<text x="303.90" y="365.48" font-size="4.0" text-anchor="end" fill="#111" font-weight="normal" stroke="#111" stroke-width="0.12">10000</text>
<line x1="305.70" y1="339.82" x2="306.90" y2="339.82" stroke="#4a4a4a" stroke-width="0.45" />
<text x="303.90" y="341.62" font-size="4.0" text-anchor="end" fill="#111" font-weight="normal" stroke="#111" stroke-width="0.12">15000</text>
<line x1="305.70" y1="315.96" x2="306.90" y2="315.96" stroke="#4a4a4a" stroke-width="0.45" />
<text x="303.90" y="317.76" font-size="4.0" text-anchor="end" fill="#111" font-weight="normal" stroke="#111" stroke-width="0.12">20000</text>
<line x1="305.70" y1="292.10" x2="306.90" y2="292.10" stroke="#4a4a4a" stroke-width="0.45" />
<text x="303.90" y="293.90" font-size="4.0" text-anchor="end" fill="#111" font-weight="normal" stroke="#111" stroke-width="0.12">25000</text>
<line x1="339.75" y1="283.50" x2="339.75" y2="305.60" stroke="#3f3f3f" stroke-width="0.7" />
<line x1="339.75" y1="322.50" x2="339.75" y2="344.30" stroke="#3f3f3f" stroke-width="0.7" />
<line x1="329.10" y1="283.50" x2="350.70" y2="283.50" stroke="#3f3f3f" stroke-width="0.7" />
<line x1="329.10" y1="344.30" x2="350.70" y2="344.30" stroke="#3f3f3f" stroke-width="0.7" />
<rect x="317.80" y="305.60" width="43.90" height="16.90" fill="#dea68a" stroke="#3f3f3f" stroke-width="0.7"/>
<line x1="317.80" y1="311.10" x2="361.70" y2="311.10" stroke="#3f3f3f" stroke-width="0.7" />
<circle cx="339.90" cy="277.20" r="1.25" fill="none" stroke="#3f3f3f" stroke-width="0.5"/>
<line x1="383.70" y1="331.30" x2="383.70" y2="368.10" stroke="#3f3f3f" stroke-width="0.7" />
<line x1="383.70" y1="394.60" x2="383.70" y2="407.60" stroke="#3f3f3f" stroke-width="0.7" />
<line x1="372.80" y1="331.30" x2="394.60" y2="331.30" stroke="#3f3f3f" stroke-width="0.7" />
<line x1="372.80" y1="407.60" x2="394.60" y2="407.60" stroke="#3f3f3f" stroke-width="0.7" />
<rect x="361.70" y="368.10" width="44.00" height="26.50" fill="#13508a" stroke="#3f3f3f" stroke-width="0.7"/>
<line x1="361.70" y1="383.30" x2="405.70" y2="383.30" stroke="#3f3f3f" stroke-width="0.7" />
<circle cx="383.60" cy="299.00" r="1.25" fill="none" stroke="#3f3f3f" stroke-width="0.5"/>
<rect x="306.90" y="270.50" width="109.60" height="143.80" fill="none" stroke="#4a4a4a" stroke-width="0.7"/>
<rect x="388.90" y="273.75" width="7.90" height="2.90" fill="#eea07c" />
<rect x="388.90" y="279.25" width="7.90" height="2.90" fill="#0b4f9c" />
<text x="399.30" y="276.60" font-size="4.1" text-anchor="start" fill="#111" font-weight="normal" >Control</text>
<text x="399.30" y="282.10" font-size="4.1" text-anchor="start" fill="#111" font-weight="normal" >Case</text>
<line x1="361.70" y1="414.30" x2="361.70" y2="415.50" stroke="#4a4a4a" stroke-width="0.45" />
<text x="361.70" y="419.90" font-size="3.8" text-anchor="middle" fill="#111" font-weight="normal" stroke="#111" stroke-width="0.12">CD37</text>
<line x1="429.10" y1="413.70" x2="430.30" y2="413.70" stroke="#4a4a4a" stroke-width="0.45" />
<text x="426.80" y="415.50" font-size="4.0" text-anchor="end" fill="#111" font-weight="normal" stroke="#111" stroke-width="0.12">0</text>
<line x1="429.10" y1="396.91" x2="430.30" y2="396.91" stroke="#4a4a4a" stroke-width="0.45" />
<text x="426.80" y="398.71" font-size="4.0" text-anchor="end" fill="#111" font-weight="normal" stroke="#111" stroke-width="0.12">1</text>
<line x1="429.10" y1="380.12" x2="430.30" y2="380.12" stroke="#4a4a4a" stroke-width="0.45" />
<text x="426.80" y="381.92" font-size="4.0" text-anchor="end" fill="#111" font-weight="normal" stroke="#111" stroke-width="0.12">2</text>
<line x1="429.10" y1="363.33" x2="430.30" y2="363.33" stroke="#4a4a4a" stroke-width="0.45" />
<text x="426.80" y="365.13" font-size="4.0" text-anchor="end" fill="#111" font-weight="normal" stroke="#111" stroke-width="0.12">3</text>
<line x1="429.10" y1="346.54" x2="430.30" y2="346.54" stroke="#4a4a4a" stroke-width="0.45" />
<text x="426.80" y="348.34" font-size="4.0" text-anchor="end" fill="#111" font-weight="normal" stroke="#111" stroke-width="0.12">4</text>
<line x1="429.10" y1="329.75" x2="430.30" y2="329.75" stroke="#4a4a4a" stroke-width="0.45" />
<text x="426.80" y="331.55" font-size="4.0" text-anchor="end" fill="#111" font-weight="normal" stroke="#111" stroke-width="0.12">5</text>
<line x1="429.10" y1="312.96" x2="430.30" y2="312.96" stroke="#4a4a4a" stroke-width="0.45" />
<text x="426.80" y="314.76" font-size="4.0" text-anchor="end" fill="#111" font-weight="normal" stroke="#111" stroke-width="0.12">6</text>
<line x1="429.10" y1="296.17" x2="430.30" y2="296.17" stroke="#4a4a4a" stroke-width="0.45" />
<text x="426.80" y="297.97" font-size="4.0" text-anchor="end" fill="#111" font-weight="normal" stroke="#111" stroke-width="0.12">7</text>
<line x1="429.10" y1="279.38" x2="430.30" y2="279.38" stroke="#4a4a4a" stroke-width="0.45" />
<text x="426.80" y="281.18" font-size="4.0" text-anchor="end" fill="#111" font-weight="normal" stroke="#111" stroke-width="0.12">8</text>
<line x1="465.60" y1="363.10" x2="465.60" y2="370.30" stroke="#3f3f3f" stroke-width="0.7" />
<line x1="465.60" y1="382.40" x2="465.60" y2="393.20" stroke="#3f3f3f" stroke-width="0.7" />
<line x1="453.60" y1="363.10" x2="477.60" y2="363.10" stroke="#3f3f3f" stroke-width="0.7" />
<line x1="453.60" y1="393.20" x2="477.60" y2="393.20" stroke="#3f3f3f" stroke-width="0.7" />
<rect x="441.70" y="370.30" width="47.80" height="12.10" fill="#dea68a" stroke="#3f3f3f" stroke-width="0.7"/>
<line x1="441.70" y1="375.30" x2="489.50" y2="375.30" stroke="#3f3f3f" stroke-width="0.7" />
<circle cx="465.50" cy="321.40" r="1.25" fill="none" stroke="#3f3f3f" stroke-width="0.5"/>
<circle cx="465.50" cy="408.10" r="1.25" fill="none" stroke="#3f3f3f" stroke-width="0.5"/>
<line x1="513.30" y1="280.50" x2="513.30" y2="325.80" stroke="#3f3f3f" stroke-width="0.7" />
<line x1="513.30" y1="356.20" x2="513.30" y2="394.00" stroke="#3f3f3f" stroke-width="0.7" />
<line x1="501.40" y1="280.50" x2="525.40" y2="280.50" stroke="#3f3f3f" stroke-width="0.7" />
<line x1="501.40" y1="394.00" x2="525.40" y2="394.00" stroke="#3f3f3f" stroke-width="0.7" />
<rect x="489.50" y="325.80" width="47.60" height="30.40" fill="#13508a" stroke="#3f3f3f" stroke-width="0.7"/>
<line x1="489.50" y1="336.30" x2="537.10" y2="336.30" stroke="#3f3f3f" stroke-width="0.7" />
<rect x="430.30" y="274.50" width="118.90" height="139.80" fill="none" stroke="#4a4a4a" stroke-width="0.7"/>
<rect x="433.00" y="277.95" width="7.80" height="2.90" fill="#eea07c" />
<rect x="433.00" y="283.55" width="7.80" height="2.90" fill="#0b4f9c" />
<text x="443.30" y="280.80" font-size="4.1" text-anchor="start" fill="#111" font-weight="normal" >Control</text>
<text x="443.30" y="286.40" font-size="4.1" text-anchor="start" fill="#111" font-weight="normal" >Case</text>
<line x1="489.30" y1="414.30" x2="489.30" y2="415.50" stroke="#4a4a4a" stroke-width="0.45" />
<text x="489.30" y="419.90" font-size="3.8" text-anchor="middle" fill="#111" font-weight="normal" stroke="#111" stroke-width="0.12">HBA1</text>
<text x="430.30" y="273.30" font-size="3.9" text-anchor="start" fill="#222" font-weight="normal" >1e6</text>
<line x1="568.30" y1="396.30" x2="569.50" y2="396.30" stroke="#4a4a4a" stroke-width="0.45" />
<text x="566.70" y="398.10" font-size="4.0" text-anchor="end" fill="#111" font-weight="normal" stroke="#111" stroke-width="0.12">1000</text>
<line x1="568.30" y1="371.76" x2="569.50" y2="371.76" stroke="#4a4a4a" stroke-width="0.45" />
<text x="566.70" y="373.56" font-size="4.0" text-anchor="end" fill="#111" font-weight="normal" stroke="#111" stroke-width="0.12">2000</text>
<line x1="568.30" y1="347.22" x2="569.50" y2="347.22" stroke="#4a4a4a" stroke-width="0.45" />
<text x="566.70" y="349.02" font-size="4.0" text-anchor="end" fill="#111" font-weight="normal" stroke="#111" stroke-width="0.12">3000</text>
<line x1="568.30" y1="322.68" x2="569.50" y2="322.68" stroke="#4a4a4a" stroke-width="0.45" />
<text x="566.70" y="324.48" font-size="4.0" text-anchor="end" fill="#111" font-weight="normal" stroke="#111" stroke-width="0.12">4000</text>
<line x1="568.30" y1="298.14" x2="569.50" y2="298.14" stroke="#4a4a4a" stroke-width="0.45" />
<text x="566.70" y="299.94" font-size="4.0" text-anchor="end" fill="#111" font-weight="normal" stroke="#111" stroke-width="0.12">5000</text>
<line x1="568.30" y1="273.60" x2="569.50" y2="273.60" stroke="#4a4a4a" stroke-width="0.45" />
<text x="566.70" y="275.40" font-size="4.0" text-anchor="end" fill="#111" font-weight="normal" stroke="#111" stroke-width="0.12">6000</text>
<line x1="602.80" y1="385.50" x2="602.80" y2="392.40" stroke="#3f3f3f" stroke-width="0.7" />
<line x1="602.80" y1="400.10" x2="602.80" y2="407.30" stroke="#3f3f3f" stroke-width="0.7" />
<line x1="591.30" y1="385.50" x2="614.00" y2="385.50" stroke="#3f3f3f" stroke-width="0.7" />
<line x1="591.30" y1="407.30" x2="614.00" y2="407.30" stroke="#3f3f3f" stroke-width="0.7" />
<rect x="580.30" y="392.40" width="45.00" height="7.70" fill="#dea68a" stroke="#3f3f3f" stroke-width="0.7"/>
<line x1="580.30" y1="397.10" x2="625.30" y2="397.10" stroke="#3f3f3f" stroke-width="0.7" />
<line x1="647.55" y1="303.40" x2="647.55" y2="346.00" stroke="#3f3f3f" stroke-width="0.7" />
<line x1="647.55" y1="383.50" x2="647.55" y2="408.10" stroke="#3f3f3f" stroke-width="0.7" />
<line x1="636.10" y1="303.40" x2="659.00" y2="303.40" stroke="#3f3f3f" stroke-width="0.7" />
<line x1="636.10" y1="408.10" x2="659.00" y2="408.10" stroke="#3f3f3f" stroke-width="0.7" />
<rect x="625.30" y="346.00" width="44.50" height="37.50" fill="#13508a" stroke="#3f3f3f" stroke-width="0.7"/>
<line x1="625.30" y1="371.40" x2="669.80" y2="371.40" stroke="#3f3f3f" stroke-width="0.7" />
<circle cx="647.40" cy="277.20" r="1.25" fill="none" stroke="#3f3f3f" stroke-width="0.5"/>
<circle cx="647.40" cy="284.60" r="1.25" fill="none" stroke="#3f3f3f" stroke-width="0.5"/>
<rect x="569.50" y="270.50" width="111.90" height="143.80" fill="none" stroke="#4a4a4a" stroke-width="0.7"/>
<rect x="653.60" y="274.35" width="7.50" height="2.90" fill="#eea07c" />
<rect x="653.60" y="279.85" width="7.50" height="2.90" fill="#0b4f9c" />
<text x="663.60" y="277.20" font-size="4.1" text-anchor="start" fill="#111" font-weight="normal" >Control</text>
<text x="663.60" y="282.70" font-size="4.1" text-anchor="start" fill="#111" font-weight="normal" >Case</text>
<line x1="625.10" y1="414.30" x2="625.10" y2="415.50" stroke="#4a4a4a" stroke-width="0.45" />
<text x="625.10" y="419.90" font-size="3.8" text-anchor="middle" fill="#111" font-weight="normal" stroke="#111" stroke-width="0.12">DBLN</text>
<line x1="43.30" y1="564.90" x2="44.50" y2="564.90" stroke="#4a4a4a" stroke-width="0.45" />
<text x="41.60" y="566.70" font-size="4.0" text-anchor="end" fill="#111" font-weight="normal" stroke="#111" stroke-width="0.12">0</text>
<line x1="43.30" y1="545.83" x2="44.50" y2="545.83" stroke="#4a4a4a" stroke-width="0.45" />
<text x="41.60" y="547.63" font-size="4.0" text-anchor="end" fill="#111" font-weight="normal" stroke="#111" stroke-width="0.12">25000</text>
<line x1="43.30" y1="526.76" x2="44.50" y2="526.76" stroke="#4a4a4a" stroke-width="0.45" />
<text x="41.60" y="528.56" font-size="4.0" text-anchor="end" fill="#111" font-weight="normal" stroke="#111" stroke-width="0.12">50000</text>
<line x1="43.30" y1="507.69" x2="44.50" y2="507.69" stroke="#4a4a4a" stroke-width="0.45" />
<text x="41.60" y="509.49" font-size="4.0" text-anchor="end" fill="#111" font-weight="normal" stroke="#111" stroke-width="0.12">75000</text>
<line x1="43.30" y1="488.62" x2="44.50" y2="488.62" stroke="#4a4a4a" stroke-width="0.45" />
<text x="41.60" y="490.42" font-size="4.0" text-anchor="end" fill="#111" font-weight="normal" stroke="#111" stroke-width="0.12">100000</text>
<line x1="43.30" y1="469.55" x2="44.50" y2="469.55" stroke="#4a4a4a" stroke-width="0.45" />
<text x="41.60" y="471.35" font-size="4.0" text-anchor="end" fill="#111" font-weight="normal" stroke="#111" stroke-width="0.12">125000</text>
<line x1="43.30" y1="450.48" x2="44.50" y2="450.48" stroke="#4a4a4a" stroke-width="0.45" />
<text x="41.60" y="452.28" font-size="4.0" text-anchor="end" fill="#111" font-weight="normal" stroke="#111" stroke-width="0.12">150000</text>
<line x1="43.30" y1="431.41" x2="44.50" y2="431.41" stroke="#4a4a4a" stroke-width="0.45" />
<text x="41.60" y="433.21" font-size="4.0" text-anchor="end" fill="#111" font-weight="normal" stroke="#111" stroke-width="0.12">175000</text>
<line x1="76.85" y1="432.30" x2="76.85" y2="454.40" stroke="#3f3f3f" stroke-width="0.7" />
<line x1="76.85" y1="477.90" x2="76.85" y2="483.90" stroke="#3f3f3f" stroke-width="0.7" />
<line x1="66.30" y1="432.30" x2="87.60" y2="432.30" stroke="#3f3f3f" stroke-width="0.7" />
<line x1="66.30" y1="483.90" x2="87.60" y2="483.90" stroke="#3f3f3f" stroke-width="0.7" />
<rect x="55.30" y="454.40" width="43.10" height="23.50" fill="#dea68a" stroke="#3f3f3f" stroke-width="0.7"/>
<line x1="55.30" y1="461.30" x2="98.40" y2="461.30" stroke="#3f3f3f" stroke-width="0.7" />
<circle cx="76.80" cy="537.80" r="1.25" fill="none" stroke="#3f3f3f" stroke-width="0.5"/>
<line x1="119.80" y1="497.50" x2="119.80" y2="532.00" stroke="#3f3f3f" stroke-width="0.7" />
<line x1="119.80" y1="560.80" x2="119.80" y2="563.20" stroke="#3f3f3f" stroke-width="0.7" />
<line x1="109.10" y1="497.50" x2="130.40" y2="497.50" stroke="#3f3f3f" stroke-width="0.7" />
<line x1="109.10" y1="563.20" x2="130.40" y2="563.20" stroke="#3f3f3f" stroke-width="0.7" />
<rect x="98.40" y="532.00" width="42.80" height="28.80" fill="#13508a" stroke="#3f3f3f" stroke-width="0.7"/>
<line x1="98.40" y1="553.30" x2="141.20" y2="553.30" stroke="#3f3f3f" stroke-width="0.7" />
<circle cx="119.60" cy="446.90" r="1.25" fill="none" stroke="#3f3f3f" stroke-width="0.5"/>
<circle cx="119.60" cy="448.30" r="1.25" fill="none" stroke="#3f3f3f" stroke-width="0.5"/>
<rect x="44.50" y="426.30" width="107.25" height="143.90" fill="none" stroke="#4a4a4a" stroke-width="0.7"/>
<rect x="124.50" y="429.75" width="8.10" height="2.90" fill="#eea07c" />
<rect x="124.50" y="435.25" width="8.10" height="2.90" fill="#0b4f9c" />
<text x="135.10" y="432.60" font-size="4.1" text-anchor="start" fill="#111" font-weight="normal" >Control</text>
<text x="135.10" y="438.10" font-size="4.1" text-anchor="start" fill="#111" font-weight="normal" >Case</text>
<line x1="98.20" y1="570.20" x2="98.20" y2="571.40" stroke="#4a4a4a" stroke-width="0.45" />
<text x="98.20" y="575.80" font-size="3.8" text-anchor="middle" fill="#111" font-weight="normal" stroke="#111" stroke-width="0.12">PSAP</text>
<line x1="175.40" y1="564.10" x2="176.60" y2="564.10" stroke="#4a4a4a" stroke-width="0.45" />
<text x="173.80" y="565.90" font-size="4.0" text-anchor="end" fill="#111" font-weight="normal" stroke="#111" stroke-width="0.12">0</text>
<line x1="175.40" y1="546.57" x2="176.60" y2="546.57" stroke="#4a4a4a" stroke-width="0.45" />
<text x="173.80" y="548.37" font-size="4.0" text-anchor="end" fill="#111" font-weight="normal" stroke="#111" stroke-width="0.12">50000</text>
<line x1="175.40" y1="529.04" x2="176.60" y2="529.04" stroke="#4a4a4a" stroke-width="0.45" />
<text x="173.80" y="530.84" font-size="4.0" text-anchor="end" fill="#111" font-weight="normal" stroke="#111" stroke-width="0.12">100000</text>
<line x1="175.40" y1="511.51" x2="176.60" y2="511.51" stroke="#4a4a4a" stroke-width="0.45" />
<text x="173.80" y="513.31" font-size="4.0" text-anchor="end" fill="#111" font-weight="normal" stroke="#111" stroke-width="0.12">150000</text>
<line x1="175.40" y1="493.98" x2="176.60" y2="493.98" stroke="#4a4a4a" stroke-width="0.45" />
<text x="173.80" y="495.78" font-size="4.0" text-anchor="end" fill="#111" font-weight="normal" stroke="#111" stroke-width="0.12">200000</text>
<line x1="175.40" y1="476.45" x2="176.60" y2="476.45" stroke="#4a4a4a" stroke-width="0.45" />
<text x="173.80" y="478.25" font-size="4.0" text-anchor="end" fill="#111" font-weight="normal" stroke="#111" stroke-width="0.12">250000</text>
<line x1="175.40" y1="458.92" x2="176.60" y2="458.92" stroke="#4a4a4a" stroke-width="0.45" />
<text x="173.80" y="460.72" font-size="4.0" text-anchor="end" fill="#111" font-weight="normal" stroke="#111" stroke-width="0.12">300000</text>
<line x1="175.40" y1="441.39" x2="176.60" y2="441.39" stroke="#4a4a4a" stroke-width="0.45" />
<text x="173.80" y="443.19" font-size="4.0" text-anchor="end" fill="#111" font-weight="normal" stroke="#111" stroke-width="0.12">350000</text>
<line x1="209.05" y1="432.30" x2="209.05" y2="443.90" stroke="#3f3f3f" stroke-width="0.7" />
<line x1="209.05" y1="475.40" x2="209.05" y2="508.50" stroke="#3f3f3f" stroke-width="0.7" />
<line x1="198.60" y1="432.30" x2="219.90" y2="432.30" stroke="#3f3f3f" stroke-width="0.7" />
<line x1="198.60" y1="508.50" x2="219.90" y2="508.50" stroke="#3f3f3f" stroke-width="0.7" />
<rect x="187.50" y="443.90" width="43.10" height="31.50" fill="#dea68a" stroke="#3f3f3f" stroke-width="0.7"/>
<line x1="187.50" y1="463.20" x2="230.60" y2="463.20" stroke="#3f3f3f" stroke-width="0.7" />
<line x1="252.15" y1="486.10" x2="252.15" y2="530.10" stroke="#3f3f3f" stroke-width="0.7" />
<line x1="252.15" y1="561.60" x2="252.15" y2="563.20" stroke="#3f3f3f" stroke-width="0.7" />
<line x1="241.70" y1="486.10" x2="262.70" y2="486.10" stroke="#3f3f3f" stroke-width="0.7" />
<line x1="241.70" y1="563.20" x2="262.70" y2="563.20" stroke="#3f3f3f" stroke-width="0.7" />
<rect x="230.60" y="530.10" width="43.10" height="31.50" fill="#13508a" stroke="#3f3f3f" stroke-width="0.7"/>
<line x1="230.60" y1="558.30" x2="273.70" y2="558.30" stroke="#3f3f3f" stroke-width="0.7" />
<circle cx="252.20" cy="438.60" r="1.25" fill="none" stroke="#3f3f3f" stroke-width="0.5"/>
<circle cx="252.20" cy="463.50" r="1.25" fill="none" stroke="#3f3f3f" stroke-width="0.5"/>
<rect x="176.60" y="426.50" width="107.80" height="143.70" fill="none" stroke="#4a4a4a" stroke-width="0.7"/>
<rect x="256.70" y="429.75" width="8.10" height="2.90" fill="#eea07c" />
<rect x="256.70" y="434.95" width="8.10" height="2.90" fill="#0b4f9c" />
<text x="267.30" y="432.60" font-size="4.1" text-anchor="start" fill="#111" font-weight="normal" >Control</text>
<text x="267.30" y="437.80" font-size="4.1" text-anchor="start" fill="#111" font-weight="normal" >Case</text>
<line x1="230.40" y1="570.20" x2="230.40" y2="571.40" stroke="#4a4a4a" stroke-width="0.45" />
<text x="230.40" y="575.80" font-size="3.8" text-anchor="middle" fill="#111" font-weight="normal" stroke="#111" stroke-width="0.12">ACTB</text>
<line x1="305.40" y1="565.40" x2="306.60" y2="565.40" stroke="#4a4a4a" stroke-width="0.45" />
<text x="303.60" y="567.20" font-size="4.0" text-anchor="end" fill="#111" font-weight="normal" stroke="#111" stroke-width="0.12">0</text>
<line x1="305.40" y1="547.53" x2="306.60" y2="547.53" stroke="#4a4a4a" stroke-width="0.45" />
<text x="303.60" y="549.33" font-size="4.0" text-anchor="end" fill="#111" font-weight="normal" stroke="#111" stroke-width="0.12">10000</text>
<line x1="305.40" y1="529.66" x2="306.60" y2="529.66" stroke="#4a4a4a" stroke-width="0.45" />
<text x="303.60" y="531.46" font-size="4.0" text-anchor="end" fill="#111" font-weight="normal" stroke="#111" stroke-width="0.12">20000</text>
<line x1="305.40" y1="511.79" x2="306.60" y2="511.79" stroke="#4a4a4a" stroke-width="0.45" />
<text x="303.60" y="513.59" font-size="4.0" text-anchor="end" fill="#111" font-weight="normal" stroke="#111" stroke-width="0.12">30000</text>
<line x1="305.40" y1="493.92" x2="306.60" y2="493.92" stroke="#4a4a4a" stroke-width="0.45" />
<text x="303.60" y="495.72" font-size="4.0" text-anchor="end" fill="#111" font-weight="normal" stroke="#111" stroke-width="0.12">40000</text>
<line x1="305.40" y1="476.05" x2="306.60" y2="476.05" stroke="#4a4a4a" stroke-width="0.45" />
<text x="303.60" y="477.85" font-size="4.0" text-anchor="end" fill="#111" font-weight="normal" stroke="#111" stroke-width="0.12">50000</text>
<line x1="305.40" y1="458.18" x2="306.60" y2="458.18" stroke="#4a4a4a" stroke-width="0.45" />
<text x="303.60" y="459.98" font-size="4.0" text-anchor="end" fill="#111" font-weight="normal" stroke="#111" stroke-width="0.12">60000</text>
<line x1="305.40" y1="440.31" x2="306.60" y2="440.31" stroke="#4a4a4a" stroke-width="0.45" />
<text x="303.60" y="442.11" font-size="4.0" text-anchor="end" fill="#111" font-weight="normal" stroke="#111" stroke-width="0.12">70000</text>
<line x1="339.50" y1="458.50" x2="339.50" y2="460.70" stroke="#3f3f3f" stroke-width="0.7" />
<line x1="339.50" y1="475.60" x2="339.50" y2="483.40" stroke="#3f3f3f" stroke-width="0.7" />
<line x1="328.90" y1="458.50" x2="350.40" y2="458.50" stroke="#3f3f3f" stroke-width="0.7" />
<line x1="328.90" y1="483.40" x2="350.40" y2="483.40" stroke="#3f3f3f" stroke-width="0.7" />
<rect x="317.50" y="460.70" width="44.00" height="14.90" fill="#dea68a" stroke="#3f3f3f" stroke-width="0.7"/>
<line x1="317.50" y1="469.30" x2="361.50" y2="469.30" stroke="#3f3f3f" stroke-width="0.7" />
<circle cx="339.60" cy="432.30" r="1.25" fill="none" stroke="#3f3f3f" stroke-width="0.5"/>
<circle cx="339.60" cy="539.80" r="1.25" fill="none" stroke="#3f3f3f" stroke-width="0.5"/>
<line x1="383.45" y1="476.80" x2="383.45" y2="521.80" stroke="#3f3f3f" stroke-width="0.7" />
<line x1="383.45" y1="554.70" x2="383.45" y2="563.00" stroke="#3f3f3f" stroke-width="0.7" />
<line x1="372.80" y1="476.80" x2="394.30" y2="476.80" stroke="#3f3f3f" stroke-width="0.7" />
<line x1="372.80" y1="563.00" x2="394.30" y2="563.00" stroke="#3f3f3f" stroke-width="0.7" />
<rect x="361.50" y="521.80" width="43.90" height="32.90" fill="#13508a" stroke="#3f3f3f" stroke-width="0.7"/>
<line x1="361.50" y1="548.00" x2="405.40" y2="548.00" stroke="#3f3f3f" stroke-width="0.7" />
<circle cx="383.30" cy="435.00" r="1.25" fill="none" stroke="#3f3f3f" stroke-width="0.5"/>
<rect x="306.60" y="426.00" width="109.80" height="144.20" fill="none" stroke="#4a4a4a" stroke-width="0.7"/>
<rect x="388.70" y="429.45" width="7.80" height="2.90" fill="#eea07c" />
<rect x="388.70" y="434.95" width="7.80" height="2.90" fill="#0b4f9c" />
<text x="399.00" y="432.30" font-size="4.1" text-anchor="start" fill="#111" font-weight="normal" >Control</text>
<text x="399.00" y="437.80" font-size="4.1" text-anchor="start" fill="#111" font-weight="normal" >Case</text>
<line x1="361.50" y1="570.20" x2="361.50" y2="571.40" stroke="#4a4a4a" stroke-width="0.45" />
<text x="361.50" y="575.80" font-size="3.8" text-anchor="middle" fill="#111" font-weight="normal" stroke="#111" stroke-width="0.12">NCF2</text>
<line x1="440.30" y1="565.40" x2="441.50" y2="565.40" stroke="#4a4a4a" stroke-width="0.45" />
<text x="438.90" y="567.20" font-size="4.0" text-anchor="end" fill="#111" font-weight="normal" stroke="#111" stroke-width="0.12">0</text>
<line x1="440.30" y1="546.14" x2="441.50" y2="546.14" stroke="#4a4a4a" stroke-width="0.45" />
<text x="438.90" y="547.94" font-size="4.0" text-anchor="end" fill="#111" font-weight="normal" stroke="#111" stroke-width="0.12">25000</text>
<line x1="440.30" y1="526.88" x2="441.50" y2="526.88" stroke="#4a4a4a" stroke-width="0.45" />
<text x="438.90" y="528.68" font-size="4.0" text-anchor="end" fill="#111" font-weight="normal" stroke="#111" stroke-width="0.12">50000</text>
<line x1="440.30" y1="507.62" x2="441.50" y2="507.62" stroke="#4a4a4a" stroke-width="0.45" />
<text x="438.90" y="509.42" font-size="4.0" text-anchor="end" fill="#111" font-weight="normal" stroke="#111" stroke-width="0.12">75000</text>
<line x1="440.30" y1="488.36" x2="441.50" y2="488.36" stroke="#4a4a4a" stroke-width="0.45" />
<text x="438.90" y="490.16" font-size="4.0" text-anchor="end" fill="#111" font-weight="normal" stroke="#111" stroke-width="0.12">100000</text>
<line x1="440.30" y1="469.10" x2="441.50" y2="469.10" stroke="#4a4a4a" stroke-width="0.45" />
<text x="438.90" y="470.90" font-size="4.0" text-anchor="end" fill="#111" font-weight="normal" stroke="#111" stroke-width="0.12">125000</text>
<line x1="440.30" y1="449.84" x2="441.50" y2="449.84" stroke="#4a4a4a" stroke-width="0.45" />
<text x="438.90" y="451.64" font-size="4.0" text-anchor="end" fill="#111" font-weight="normal" stroke="#111" stroke-width="0.12">150000</text>
<line x1="440.30" y1="430.58" x2="441.50" y2="430.58" stroke="#4a4a4a" stroke-width="0.45" />
<text x="438.90" y="432.38" font-size="4.0" text-anchor="end" fill="#111" font-weight="normal" stroke="#111" stroke-width="0.12">175000</text>
<line x1="473.90" y1="476.80" x2="473.90" y2="479.20" stroke="#3f3f3f" stroke-width="0.7" />
<line x1="473.90" y1="496.40" x2="473.90" y2="504.10" stroke="#3f3f3f" stroke-width="0.7" />
<line x1="463.30" y1="476.80" x2="484.60" y2="476.80" stroke="#3f3f3f" stroke-width="0.7" />
<line x1="463.30" y1="504.10" x2="484.60" y2="504.10" stroke="#3f3f3f" stroke-width="0.7" />
<rect x="452.50" y="479.20" width="42.80" height="17.20" fill="#dea68a" stroke="#3f3f3f" stroke-width="0.7"/>
<line x1="452.50" y1="492.20" x2="495.30" y2="492.20" stroke="#3f3f3f" stroke-width="0.7" />
<circle cx="473.80" cy="433.60" r="1.25" fill="none" stroke="#3f3f3f" stroke-width="0.5"/>
<circle cx="473.80" cy="443.90" r="1.25" fill="none" stroke="#3f3f3f" stroke-width="0.5"/>
<line x1="516.75" y1="482.30" x2="516.75" y2="528.10" stroke="#3f3f3f" stroke-width="0.7" />
<line x1="516.75" y1="561.60" x2="516.75" y2="563.20" stroke="#3f3f3f" stroke-width="0.7" />
<line x1="506.10" y1="482.30" x2="527.70" y2="482.30" stroke="#3f3f3f" stroke-width="0.7" />
<line x1="506.10" y1="563.20" x2="527.70" y2="563.20" stroke="#3f3f3f" stroke-width="0.7" />
<rect x="495.30" y="528.10" width="42.90" height="33.50" fill="#13508a" stroke="#3f3f3f" stroke-width="0.7"/>
<line x1="495.30" y1="551.60" x2="538.20" y2="551.60" stroke="#3f3f3f" stroke-width="0.7" />
<circle cx="516.90" cy="432.30" r="1.25" fill="none" stroke="#3f3f3f" stroke-width="0.5"/>
<circle cx="516.90" cy="457.10" r="1.25" fill="none" stroke="#3f3f3f" stroke-width="0.5"/>
<rect x="441.50" y="426.00" width="107.70" height="144.20" fill="none" stroke="#4a4a4a" stroke-width="0.7"/>
<rect x="521.70" y="429.45" width="7.80" height="2.90" fill="#eea07c" />
<rect x="521.70" y="434.65" width="7.80" height="2.90" fill="#0b4f9c" />
<text x="532.00" y="432.30" font-size="4.1" text-anchor="start" fill="#111" font-weight="normal" >Control</text>
<text x="532.00" y="437.50" font-size="4.1" text-anchor="start" fill="#111" font-weight="normal" >Case</text>
<line x1="495.10" y1="570.20" x2="495.10" y2="571.40" stroke="#4a4a4a" stroke-width="0.45" />
<text x="495.10" y="575.80" font-size="3.8" text-anchor="middle" fill="#111" font-weight="normal" stroke="#111" stroke-width="0.12">SELL</text>
<line x1="570.30" y1="567.70" x2="571.50" y2="567.70" stroke="#4a4a4a" stroke-width="0.45" />
<text x="568.70" y="569.50" font-size="4.0" text-anchor="end" fill="#111" font-weight="normal" stroke="#111" stroke-width="0.12">0</text>
<line x1="570.30" y1="541.88" x2="571.50" y2="541.88" stroke="#4a4a4a" stroke-width="0.45" />
<text x="568.70" y="543.68" font-size="4.0" text-anchor="end" fill="#111" font-weight="normal" stroke="#111" stroke-width="0.12">10000</text>
<line x1="570.30" y1="516.06" x2="571.50" y2="516.06" stroke="#4a4a4a" stroke-width="0.45" />
<text x="568.70" y="517.86" font-size="4.0" text-anchor="end" fill="#111" font-weight="normal" stroke="#111" stroke-width="0.12">20000</text>
<line x1="570.30" y1="490.24" x2="571.50" y2="490.24" stroke="#4a4a4a" stroke-width="0.45" />
<text x="568.70" y="492.04" font-size="4.0" text-anchor="end" fill="#111" font-weight="normal" stroke="#111" stroke-width="0.12">30000</text>
<line x1="570.30" y1="464.42" x2="571.50" y2="464.42" stroke="#4a4a4a" stroke-width="0.45" />
<text x="568.70" y="466.22" font-size="4.0" text-anchor="end" fill="#111" font-weight="normal" stroke="#111" stroke-width="0.12">40000</text>
<line x1="570.30" y1="438.60" x2="571.50" y2="438.60" stroke="#4a4a4a" stroke-width="0.45" />
<text x="568.70" y="440.40" font-size="4.0" text-anchor="end" fill="#111" font-weight="normal" stroke="#111" stroke-width="0.12">50000</text>
<line x1="604.45" y1="432.30" x2="604.45" y2="453.50" stroke="#3f3f3f" stroke-width="0.7" />
<line x1="604.45" y1="492.00" x2="604.45" y2="524.00" stroke="#3f3f3f" stroke-width="0.7" />
<line x1="593.50" y1="432.30" x2="615.40" y2="432.30" stroke="#3f3f3f" stroke-width="0.7" />
<line x1="593.50" y1="524.00" x2="615.40" y2="524.00" stroke="#3f3f3f" stroke-width="0.7" />
<rect x="582.50" y="453.50" width="43.90" height="38.50" fill="#dea68a" stroke="#3f3f3f" stroke-width="0.7"/>
<line x1="582.50" y1="466.30" x2="626.40" y2="466.30" stroke="#3f3f3f" stroke-width="0.7" />
<line x1="648.35" y1="447.20" x2="648.35" y2="500.20" stroke="#3f3f3f" stroke-width="0.7" />
<line x1="648.35" y1="537.50" x2="648.35" y2="563.20" stroke="#3f3f3f" stroke-width="0.7" />
<line x1="636.90" y1="447.20" x2="659.60" y2="447.20" stroke="#3f3f3f" stroke-width="0.7" />
<line x1="636.90" y1="563.20" x2="659.60" y2="563.20" stroke="#3f3f3f" stroke-width="0.7" />
<rect x="626.40" y="500.20" width="43.90" height="37.30" fill="#13508a" stroke="#3f3f3f" stroke-width="0.7"/>
<line x1="626.40" y1="521.20" x2="670.30" y2="521.20" stroke="#3f3f3f" stroke-width="0.7" />
<rect x="571.50" y="426.40" width="109.90" height="143.80" fill="none" stroke="#4a4a4a" stroke-width="0.7"/>
<rect x="653.60" y="429.75" width="7.80" height="2.90" fill="#eea07c" />
<rect x="653.60" y="434.95" width="7.80" height="2.90" fill="#0b4f9c" />
<text x="663.90" y="432.60" font-size="4.1" text-anchor="start" fill="#111" font-weight="normal" >Control</text>
<text x="663.90" y="437.80" font-size="4.1" text-anchor="start" fill="#111" font-weight="normal" >Case</text>
<line x1="626.10" y1="570.20" x2="626.10" y2="571.40" stroke="#4a4a4a" stroke-width="0.45" />
<text x="626.10" y="575.80" font-size="3.8" text-anchor="middle" fill="#111" font-weight="normal" stroke="#111" stroke-width="0.12">ICAM3</text>
<text x="0" y="0" font-size="12.5" text-anchor="middle" fill="#111" transform="translate(17.9,345.2) rotate(-90)">RNA-seq Expression</text>
<text x="0" y="0" font-size="12.5" text-anchor="middle" fill="#111" transform="translate(17.9,501.0) rotate(-90)">RNA-seq Expression</text></svg>
</body></html>
